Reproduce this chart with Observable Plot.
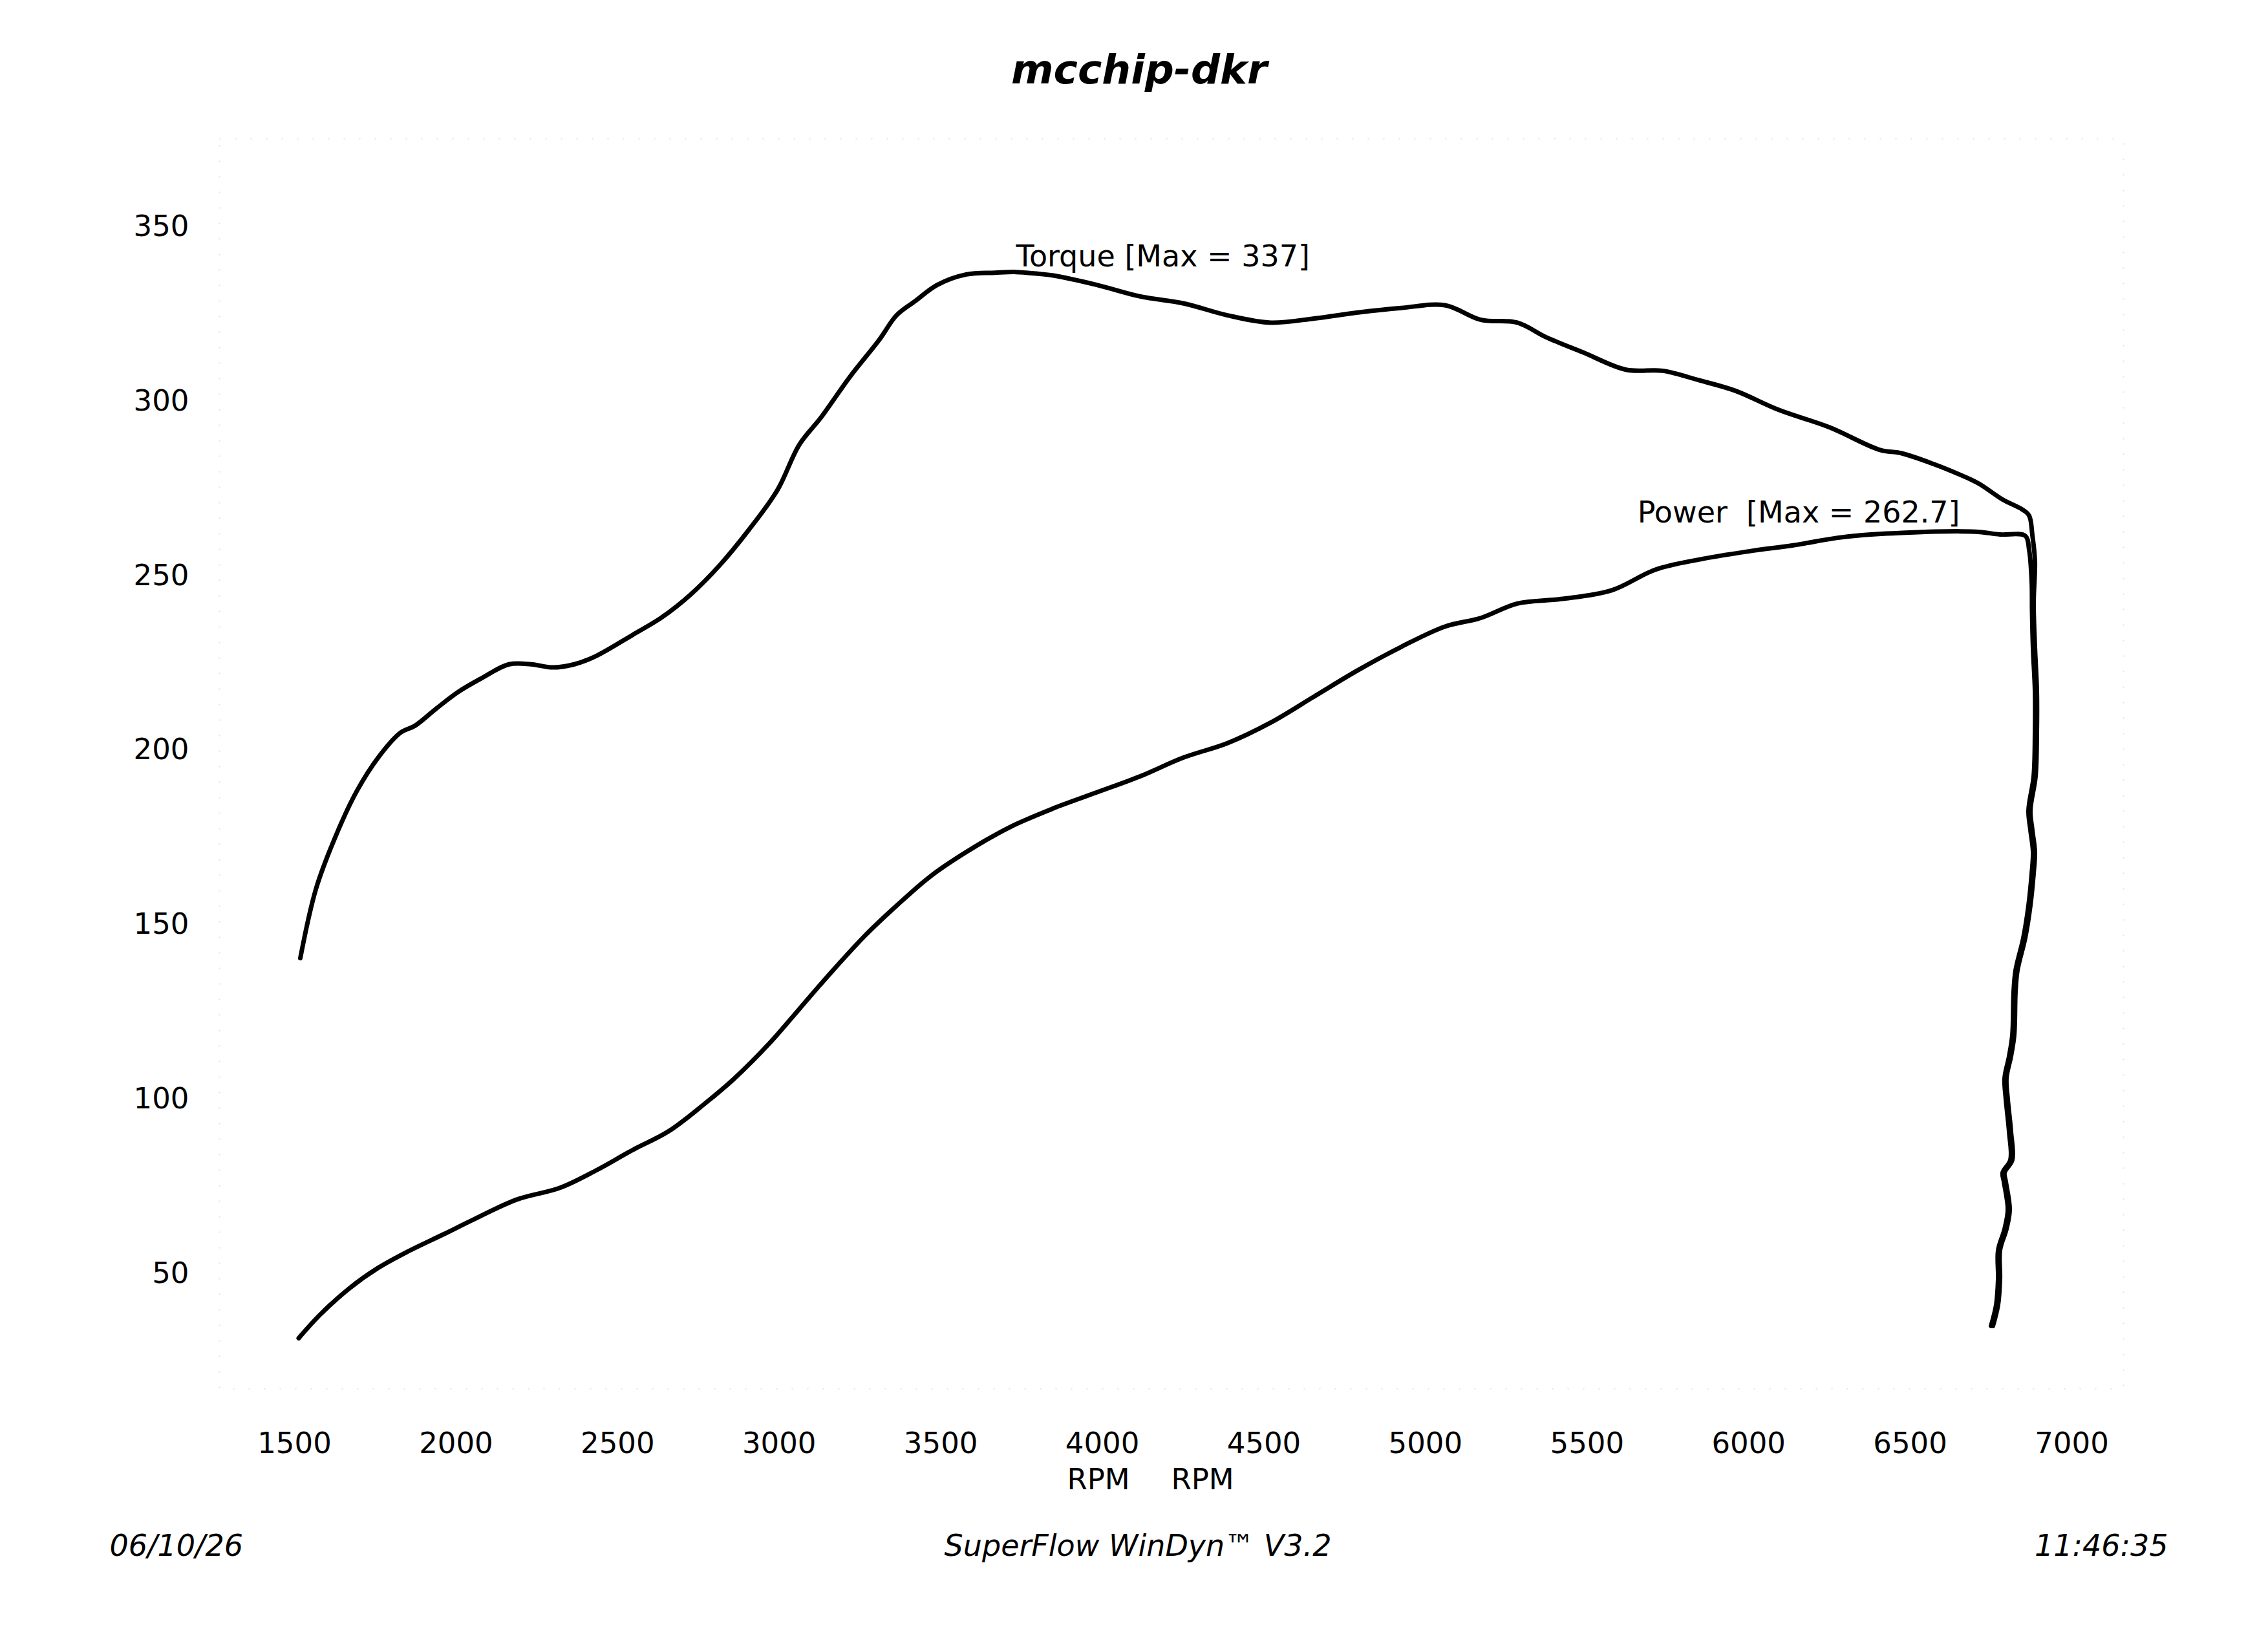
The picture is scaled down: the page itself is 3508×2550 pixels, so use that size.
<!DOCTYPE html>
<html>
<head>
<meta charset="utf-8">
<script src="https://cdn.jsdelivr.net/npm/d3@7"></script>
<script src="https://cdn.jsdelivr.net/npm/@observablehq/plot@0.6"></script>
<style>
  html, body { margin: 0; padding: 0; background: #fff; }
  svg text { white-space: pre; }
</style>
</head>
<body>
<div id="chart"></div>
<script>
const chartTitle = "mcchip-dkr";
const footerLeft = "06/10/26";
const footerCenter = "SuperFlow WinDyn\u2122 V3.2";
const footerRight = "11:46:35";
const xAxisLabel = "RPM";

const xTicks = [1500, 2000, 2500, 3000, 3500, 4000, 4500, 5000, 5500, 6000, 6500, 7000];
const yTicks = [50, 100, 150, 200, 250, 300, 350];

// Torque curve (RPM, value)
const torqueRpm = [
  1518, 1567, 1635, 1693, 1760, 1828, 1873, 1940, 2007, 2075, 2164, 2232, 2299, 2366, 2434,
  2546, 2636, 2726, 2816, 2905, 2995, 3062, 3130, 3219, 3309, 3363, 3421, 3489, 3579, 3668,
  3733, 3800, 3848, 3983, 4117, 4252, 4387, 4521, 4656, 4791, 4925, 5060, 5172, 5284, 5374,
  5487, 5621, 5734, 5846, 5958, 6093, 6250, 6407, 6472, 6572, 6652, 6712, 6786, 6846, 6868,
  6878, 6886, 6882, 6886, 6892, 6892, 6888, 6872, 6878, 6886, 6882, 6872, 6856, 6832, 6826,
  6822, 6812, 6798, 6802, 6812, 6816, 6792, 6796, 6808, 6798, 6778, 6778, 6772, 6756
];
const torqueVal = [
  140.4, 160.4, 177.0, 188.3, 198.0, 205.0, 207.0, 212.0, 216.7, 220.4, 224.6, 224.6, 223.7, 224.6, 227.0,
  233.0, 238.0, 244.6, 253.0, 263.0, 274.6, 287.5, 295.4, 307.0, 317.5, 324.6, 328.7, 333.3, 336.3, 336.8,
  337.0, 336.5, 336.0, 333.3, 330.0, 328.0, 324.6, 322.5, 323.7, 325.4, 326.7, 327.5, 323.3, 322.5, 318.3,
  314.0, 309.0, 308.7, 306.0, 303.0, 297.5, 292.5, 286.0, 285.1, 282.0, 279.0, 276.4, 271.8, 269.0, 267.2,
  261.6, 254.2, 242.0, 229.6, 217.1, 204.9, 192.5, 182.7, 177.1, 170.8, 164.7, 155.5, 146.2, 136.9, 130.8,
  118.4, 112.3, 106.0, 99.9, 90.6, 82.6, 78.9, 76.3, 68.4, 62.8, 56.7, 48.5, 41.1, 35.0
];

// Power curve (RPM, value)
const powerRpm = [
  1513, 1580, 1670, 1760, 1850, 1962, 2052, 2187, 2322, 2434, 2546, 2658, 2771, 2860, 2973,
  3062, 3152, 3264, 3363, 3466, 3579, 3713, 3848, 3983, 4117, 4252, 4387, 4521, 4656, 4791,
  4925, 5060, 5172, 5284, 5419, 5576, 5711, 5846, 6003, 6138, 6272, 6352, 6486, 6654, 6716,
  6778, 6856, 6868, 6876, 6877, 6880, 6886, 6886, 6882, 6866, 6872, 6880, 6876, 6866, 6850,
  6826, 6820, 6816, 6806, 6792, 6796, 6806, 6810, 6786, 6790, 6802, 6792, 6772, 6772, 6766, 6750
];
const powerVal = [
  31.5, 38.3, 45.8, 51.7, 56.3, 61.3, 65.4, 71.2, 74.6, 79.6, 85.4, 90.8, 98.8, 105.8, 116.3,
  125.8, 135.4, 146.7, 155.4, 163.7, 170.8, 177.9, 183.3, 187.9, 192.5, 197.9, 202.0, 207.9, 215.4, 222.9,
  229.6, 235.4, 237.9, 242.0, 243.3, 245.8, 251.7, 254.6, 257.0, 258.7, 260.8, 261.6, 262.3, 262.7, 262.5,
  261.8, 261.4, 257.4, 248.1, 240.0, 229.0, 217.0, 205.0, 192.5, 182.7, 177.1, 170.8, 164.7, 155.5, 146.2,
  136.9, 130.8, 118.4, 112.3, 106.0, 99.9, 90.6, 82.6, 78.9, 76.3, 68.4, 62.8, 56.7, 48.5, 41.1, 35.0
];

const torque = torqueRpm.map((r, i) => ({rpm: r, value: torqueVal[i]}));
const power = powerRpm.map((r, i) => ({rpm: r, value: powerVal[i]}));

const tMax = torque[d3.maxIndex(torque, d => d.value)];
const pMax = power[d3.maxIndex(power, d => d.value)];

const FONT = "'DejaVu Sans', Verdana, sans-serif";

const chart = Plot.plot({
  width: 3508,
  height: 2550,
  marginLeft: 455,
  marginRight: 304,
  marginTop: 350,
  marginBottom: 581,
  style: {background: "#fff", fontFamily: FONT, fontSize: "45px", color: "#000"},
  x: {domain: [1500, 7000]},
  y: {domain: [50, 350]},
  marks: [
    Plot.frame({stroke: "#e4e4e4", strokeWidth: 2, strokeDasharray: "2,22",
      insetLeft: -116, insetRight: -80, insetTop: -136, insetBottom: -178}),
    Plot.axisY({ticks: yTicks, tickSize: 0, tickPadding: 163, tickFormat: d => String(d), label: null, fontSize: 45}),
    Plot.axisX({ticks: xTicks, tickSize: 0, tickPadding: 246, tickFormat: d => String(d), label: null, fontSize: 45}),
    Plot.line(torque, {x: "rpm", y: "value", stroke: "#000", strokeWidth: 7, curve: "catmull-rom", strokeLinejoin: "round", strokeLinecap: "round"}),
    Plot.line(power, {x: "rpm", y: "value", stroke: "#000", strokeWidth: 7, curve: "catmull-rom", strokeLinejoin: "round", strokeLinecap: "round"}),
    Plot.text([tMax], {x: "rpm", y: "value", text: d => `Torque [Max = ${d.value}]`, textAnchor: "start", lineAnchor: "bottom", dy: -9, fontSize: 46, fill: "#000"}),
    Plot.text([pMax], {x: "rpm", y: "value", text: d => `Power  [Max = ${d.value}]`, textAnchor: "end", lineAnchor: "bottom", dy: -14, fontSize: 46, fill: "#000"}),
    Plot.text([chartTitle], {frameAnchor: "top", text: d => d, dx: -68, dy: -222, lineAnchor: "bottom", fontSize: 63, fontWeight: "bold", fontStyle: "italic", fill: "#000"}),
    Plot.text([xAxisLabel], {frameAnchor: "bottom", text: d => d, dx: -131, dy: 333, lineAnchor: "bottom", fontSize: 45, fill: "#000"}),
    Plot.text([xAxisLabel], {frameAnchor: "bottom", text: d => d, dx: 30, dy: 333, lineAnchor: "bottom", fontSize: 45, fill: "#000"}),
    Plot.text([footerLeft], {frameAnchor: "bottom-left", text: d => d, dx: -286, dy: 436, textAnchor: "start", lineAnchor: "bottom", fontSize: 46, fontStyle: "italic", fill: "#000"}),
    Plot.text([footerCenter], {frameAnchor: "bottom", text: d => d, dx: -70, dy: 436, lineAnchor: "bottom", fontSize: 46, fontStyle: "italic", fill: "#000"}),
    Plot.text([footerRight], {frameAnchor: "bottom-right", text: d => d, dx: 149, dy: 436, textAnchor: "end", lineAnchor: "bottom", fontSize: 46, fontStyle: "italic", fill: "#000"})
  ]
});
document.getElementById("chart").appendChild(chart);
</script>
</body>
</html>
